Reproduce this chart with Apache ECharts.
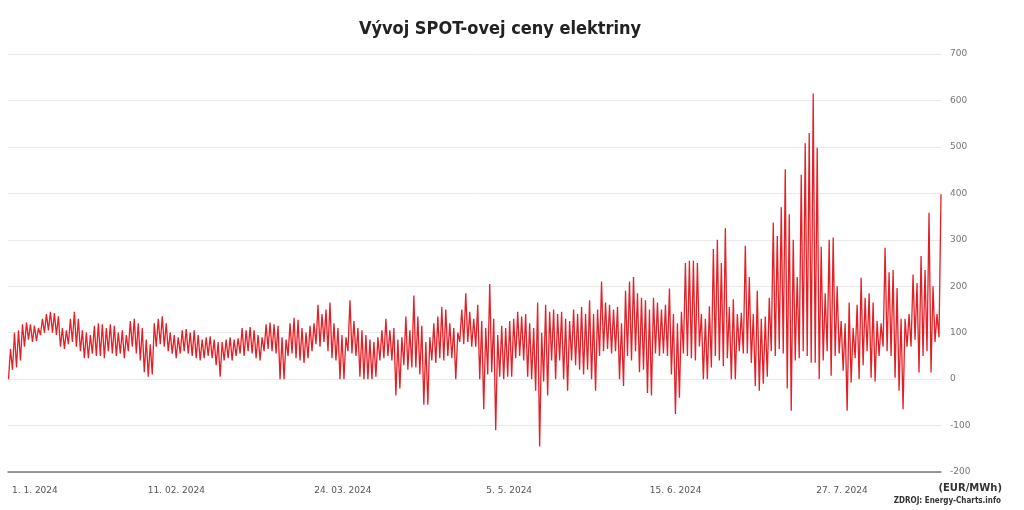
<!DOCTYPE html>
<html>
<head>
<meta charset="utf-8">
<script src="https://cdn.jsdelivr.net/npm/echarts@6/dist/echarts.min.js"></script>
<style>
  html, body { margin: 0; padding: 0; background: #fff; }
  #main { width: 1024px; height: 510px; }
</style>
</head>
<body>
<div id="main"></div>
<script>
// daily low / high spot price (EUR/MWh), pairs per day
var jan = [0,65, 20,100, 25,105, 40,118, 70,122, 85,118, 80,115, 82,110, 95,130, 100,140,
    105,145, 100,142, 95,135, 70,110, 65,105, 75,130, 80,145, 70,130, 60,105, 45,100,
    45,95, 55,115, 50,120, 50,118, 45,110, 60,118, 55,115, 50,100, 55,105, 45,95, 60,125];
var feb = [70,130, 55,120, 40,110, 15,85, 5,75, 10,120, 70,130, 75,135, 70,120, 60,100,
    55,95, 45,90, 55,105, 60,108, 55,100, 50,105, 45,95, 40,85, 45,90, 50,92,
    45,85, 30,80, 5,80, 40,85, 45,90, 40,85, 50,88, 55,110, 50,105];
var mar = [60,112, 55,105, 45,95, 40,90, 60,118, 65,122, 60,118, 55,115, 0,90, 0,85,
    50,120, 55,132, 45,128, 40,110, 35,100, 45,115, 60,120, 75,160, 70,140, 80,150,
    60,165, 45,120, 40,110, 0,95, 0,90, 60,170, 55,125, 50,110, 5,105, 0,95, 0,85];
var apr = [0,80, 5,90, 40,105, 45,130, 50,105, 40,110, -35,85, -20,90, 30,135, 20,105,
    25,180, 25,135, 10,115, -55,80, -55,90, 40,120, 35,135, 45,155, 40,150, 50,120,
    45,110, 0,100, 80,150, 75,185, 80,145, 70,130, 70,160, 0,125, -65,110, 10,205];
var may = [15,130, -110,95, 5,115, 0,110, 5,125, 5,130, 45,145, 50,135, 40,140, 5,120,
    0,110, -25,165, -145,100, -5,160, -35,145, 40,150, 0,140, 40,145, 0,130, -25,125,
    40,150, 30,140, 20,155, 10,140, 20,170, 0,140, -25,150, 50,210, 60,165, 65,160, 55,150];
var jun = [60,155, 0,120, -15,190, 50,210, 40,220, 60,185, 15,175, 20,170, -30,150, -35,175,
    55,165, 50,150, 55,160, 50,195, 10,140, -75,120, -40,145, 55,250, 50,255, 45,255,
    40,250, 70,140, 0,130, 0,157, 25,280, 50,300, 40,250, 28,325, 45,155, 0,172];
var jul = [0,140, 60,143, 55,287, 55,220, 35,140, -15,190, -25,130, -10,135, 5,175, 60,337,
    50,308, 65,370, 55,452, -20,355, -68,300, 40,220, 45,440, 60,508, 50,530, 35,615,
    35,498, 0,285, 40,185, 60,300, 7,305, 50,200, 55,125, 18,120, -68,165, -7,110, 45,160];
var aug = [0,218, 30,175, 60,185, 3,165, -5,125, 50,120, 70,283, 60,230, 50,235, 3,196,
    -25,130, -65,130, 70,140, 70,225, 85,207, 14,265, 50,235, 60,358, 14,200, 80,140, 90,398];

// labels every 1000 hours
var tickLabels = ['1. 1. 2024', '11. 02. 2024', '24. 03. 2024', '5. 5. 2024', '15. 6. 2024', '27. 7. 2024'];
var yTicks = [-200, -100, 0, 100, 200, 300, 400, 500, 600, 700];

var all = [].concat(jan, feb, mar, apr, may, jun, jul, aug);
var points = [];
for (var i = 0; i < all.length; i += 2) {
    var day = i / 2;
    points.push([day * 24 + 3, all[i]]);
    points.push([day * 24 + 15, all[i + 1]]);
}

var myChart = echarts.init(document.getElementById('main'));

var option = {
    animation: false,
    title: {
        text: 'Vývoj SPOT-ovej ceny elektriny',
        left: 495,
        textAlign: 'center',
        top: 15,
        textStyle: {
            fontFamily: '"Liberation Sans Narrow", "DejaVu Sans Condensed"',
            fontWeight: 'bold',
            fontSize: 18,
            color: '#222'
        }
    },
    grid: {
        left: 8,
        right: 83,
        top: 54,
        bottom: 38
    },
    xAxis: {
        type: 'value',
        min: 0,
        max: 'dataMax',
        interval: 1000,
        axisLine: {show: true, onZero: false, lineStyle: {color: '#777', width: 1.5}},
        axisTick: {show: false},
        splitLine: {show: false},
        axisLabel: {
            color: '#555',
            fontSize: 9,
            fontFamily: 'DejaVu Sans',
            margin: 14,
            alignMinLabel: 'left',
            showMaxLabel: false,
            padding: [0, 0, 0, 4],
            formatter: function (v) {
                return tickLabels[Math.round(v / 1000)] || '';
            }
        }
    },
    yAxis: {
        type: 'value',
        position: 'right',
        min: yTicks[0],
        max: yTicks[yTicks.length - 1],
        interval: 100,
        axisLine: {show: false},
        axisTick: {show: false},
        splitLine: {lineStyle: {color: '#e9e9e9', width: 1}},
        axisLabel: {
            color: '#777',
            fontSize: 9,
            fontFamily: 'DejaVu Sans',
            margin: 9
        }
    },
    graphic: [
        {
            type: 'text',
            right: 22,
            top: 483,
            style: {
                text: '(EUR/MWh)',
                font: 'bold 10px "DejaVu Sans"',
                fill: '#333'
            }
        },
        {
            type: 'text',
            right: 23,
            top: 497,
            style: {
                text: 'ZDROJ: Energy-Charts.info',
                font: 'bold 8px "DejaVu Sans Condensed"',
                fill: '#333'
            }
        }
    ],
    series: [{
        type: 'line',
        data: points,
        symbol: 'none',
        lineStyle: {color: '#e41f25', width: 1.3},
        z: 3
    }]
};
myChart.setOption(option);
</script>
</body>
</html>
